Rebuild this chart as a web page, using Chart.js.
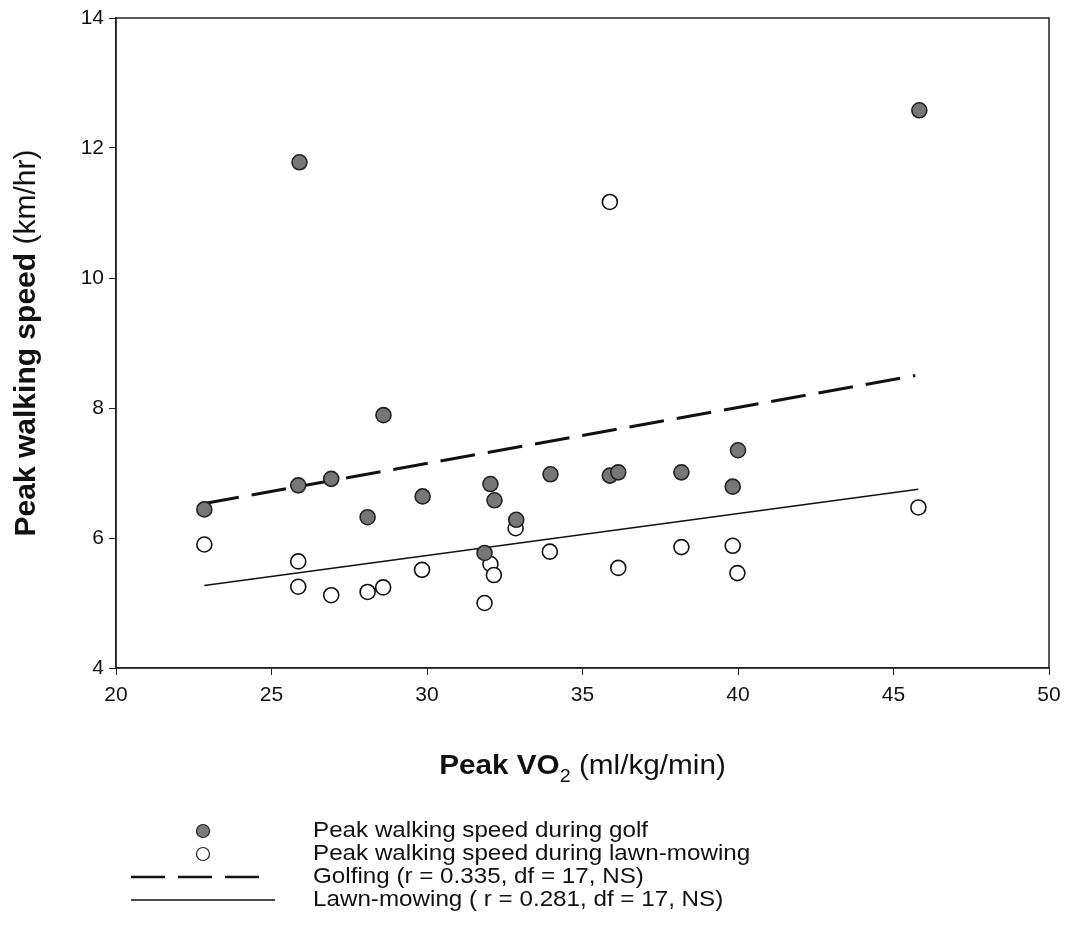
<!DOCTYPE html>
<html>
<head>
<meta charset="utf-8">
<script src="https://cdn.jsdelivr.net/npm/chart.js@4/dist/chart.umd.min.js"></script>
<style>
  html, body { margin: 0; padding: 0; background: #fff; }
  #wrap { width: 1066px; height: 951px; }
</style>
</head>
<body>
<div id="wrap"><canvas id="c" width="1066" height="951"></canvas></div>
<script>
// data
const golfVO2   = [22.84, 25.9, 25.86, 26.92, 28.09, 28.6, 29.86, 31.85, 32.04, 32.17, 32.87, 33.97, 35.88, 36.15, 38.18, 39.83, 40.0, 45.83];
const golfSpeed = [6.44, 11.78, 6.81, 6.91, 6.32, 7.89, 6.64, 5.77, 6.83, 6.58, 6.28, 6.98, 6.96, 7.01, 7.01, 6.79, 7.35, 12.58];

const lawnVO2   = [22.84, 25.86, 25.86, 26.92, 28.09, 28.59, 29.84, 31.85, 32.04, 32.15, 32.85, 33.95, 35.88, 36.15, 38.18, 39.83, 39.98, 45.8];
const lawnSpeed = [5.90, 5.64, 5.25, 5.12, 5.17, 5.24, 5.51, 5.00, 5.60, 5.43, 6.15, 5.79, 11.17, 5.54, 5.86, 5.88, 5.46, 6.47];

// regression line end points
const golfFitX = [22.84, 45.7];
const golfFitY = [6.53, 8.50];
const lawnFitX = [22.84, 45.8];
const lawnFitY = [5.27, 6.75];

const xTicks = [20, 25, 30, 35, 40, 45, 50];
const yTicks = [4, 6, 8, 10, 12, 14];

const legendLabels = [
  "Peak walking speed during golf",
  "Peak walking speed during lawn-mowing",
  "Golfing (r = 0.335, df = 17, NS)",
  "Lawn-mowing ( r = 0.281, df = 17, NS)"
];

const FONT = "'Liberation Sans', Arial, sans-serif";
const STRETCH = 1.1; // scan looks a bit wider than plain Arial

const pts = (xs, ys) => xs.map((x, i) => ({ x, y: ys[i] }));

// text drawn with a slight horizontal stretch
function wideText(ctx, s, x, y, font) {
  ctx.save();
  ctx.font = font;
  ctx.translate(x, y);
  ctx.scale(STRETCH, 1);
  ctx.fillText(s, 0, 0);
  const w = ctx.measureText(s).width * STRETCH;
  ctx.restore();
  return w;
}
function wideWidth(ctx, s, font) {
  ctx.save();
  ctx.font = font;
  const w = ctx.measureText(s).width * STRETCH;
  ctx.restore();
  return w;
}

// titles, frame and legend drawn by hand
const extras = {
  id: "extras",
  afterDraw(chart) {
    const { ctx, chartArea: a } = chart;
    ctx.save();
    // frame
    ctx.strokeStyle = "#222";
    ctx.lineWidth = 1.5;
    ctx.strokeRect(a.left, a.top, a.right - a.left, a.bottom - a.top);

    ctx.fillStyle = "#111";
    ctx.textBaseline = "middle";
    ctx.textAlign = "left";

    // x title: bold "Peak VO" + subscript 2 + normal rest
    const fB = "bold 27px " + FONT, fN = "27px " + FONT, fS = "18px " + FONT;
    const xt1 = "Peak VO", xt2 = "2", xt3 = " (ml/kg/min)";
    const tot = wideWidth(ctx, xt1, fB) + wideWidth(ctx, xt2, fS) + wideWidth(ctx, xt3, fN);
    let x0 = (a.left + a.right) / 2 - tot / 2;
    const ty = 767;
    x0 += wideText(ctx, xt1, x0, ty, fB);
    x0 += wideText(ctx, xt2, x0, ty + 10, fS);
    wideText(ctx, xt3, x0, ty, fN);

    // y title, rotated
    const yt1 = "Peak walking speed", yt2 = " (km/hr)";
    ctx.save();
    ctx.translate(27, (a.top + a.bottom) / 2);
    ctx.rotate(-Math.PI / 2);
    ctx.font = "bold 30px " + FONT;
    const v1 = ctx.measureText(yt1).width;
    ctx.font = "30px " + FONT;
    const v2 = ctx.measureText(yt2).width;
    const y0 = -(v1 + v2) / 2;
    ctx.font = "bold 30px " + FONT;
    ctx.fillText(yt1, y0, 0);
    ctx.font = "30px " + FONT;
    ctx.fillText(yt2, y0 + v1, 0);
    ctx.restore();

    // legend
    const rows = [831, 854, 877, 900];
    const symX = 203, textX = 313;
    legendLabels.forEach((t, i) => wideText(ctx, t, textX, rows[i], "22px " + FONT));

    ctx.lineWidth = 1.2;
    ctx.beginPath();
    ctx.arc(symX, rows[0], 6.5, 0, Math.PI * 2);
    ctx.fillStyle = "#7a7a7a";
    ctx.fill();
    ctx.strokeStyle = "#222";
    ctx.stroke();

    ctx.beginPath();
    ctx.arc(symX, rows[1], 6.5, 0, Math.PI * 2);
    ctx.fillStyle = "#fff";
    ctx.fill();
    ctx.stroke();

    ctx.strokeStyle = "#111";
    ctx.lineWidth = 2.5;
    ctx.setLineDash([34, 13]);
    ctx.beginPath();
    ctx.moveTo(131, rows[2]);
    ctx.lineTo(264, rows[2]);
    ctx.stroke();

    ctx.setLineDash([]);
    ctx.lineWidth = 1.5;
    ctx.beginPath();
    ctx.moveTo(131, rows[3]);
    ctx.lineTo(275, rows[3]);
    ctx.stroke();
    ctx.restore();
  }
};

new Chart(document.getElementById("c"), {
  type: "scatter",
  data: {
    datasets: [
      {
        label: legendLabels[2],
        data: pts(golfFitX, golfFitY),
        showLine: true,
        borderColor: "#111",
        borderWidth: 3,
        borderDash: [35, 13],
        pointRadius: 0,
        order: 3
      },
      {
        label: legendLabels[3],
        data: pts(lawnFitX, lawnFitY),
        showLine: true,
        borderColor: "#111",
        borderWidth: 1.5,
        pointRadius: 0,
        order: 4
      },
      {
        label: legendLabels[1],
        data: pts(lawnVO2, lawnSpeed),
        backgroundColor: "#fff",
        borderColor: "#111",
        borderWidth: 1.6,
        pointRadius: 7.5,
        order: 2
      },
      {
        label: legendLabels[0],
        data: pts(golfVO2, golfSpeed),
        backgroundColor: "#777",
        borderColor: "#222",
        borderWidth: 1.6,
        pointRadius: 7.5,
        order: 1
      }
    ]
  },
  options: {
    responsive: false,
    animation: false,
    layout: { padding: { left: 0, top: 18, right: 17, bottom: 0 } },
    plugins: { legend: { display: false }, tooltip: { enabled: false } },
    scales: {
      x: {
        type: "linear",
        min: 20, max: 50,
        afterBuildTicks: s => { s.ticks = xTicks.map(v => ({ value: v })); },
        afterFit: s => { s.height = 283; s.paddingLeft = 0; s.paddingRight = 0; },
        grid: { display: true, drawOnChartArea: false, drawTicks: true, tickLength: 7, color: "#222" },
        border: { display: true, color: "#222", width: 1.5 },
        ticks: { color: "#111", font: { family: FONT, size: 21 }, padding: 8, maxRotation: 0 }
      },
      y: {
        type: "linear",
        min: 4, max: 14,
        afterBuildTicks: s => { s.ticks = yTicks.map(v => ({ value: v })); },
        afterFit: s => { s.width = 116; s.paddingTop = 0; s.paddingBottom = 0; },
        grid: { display: true, drawOnChartArea: false, drawTicks: true, tickLength: 7, color: "#222" },
        border: { display: true, color: "#222", width: 1.5 },
        ticks: { color: "#111", font: { family: FONT, size: 21 }, padding: 5 }
      }
    }
  },
  plugins: [extras]
});
</script>
</body>
</html>
